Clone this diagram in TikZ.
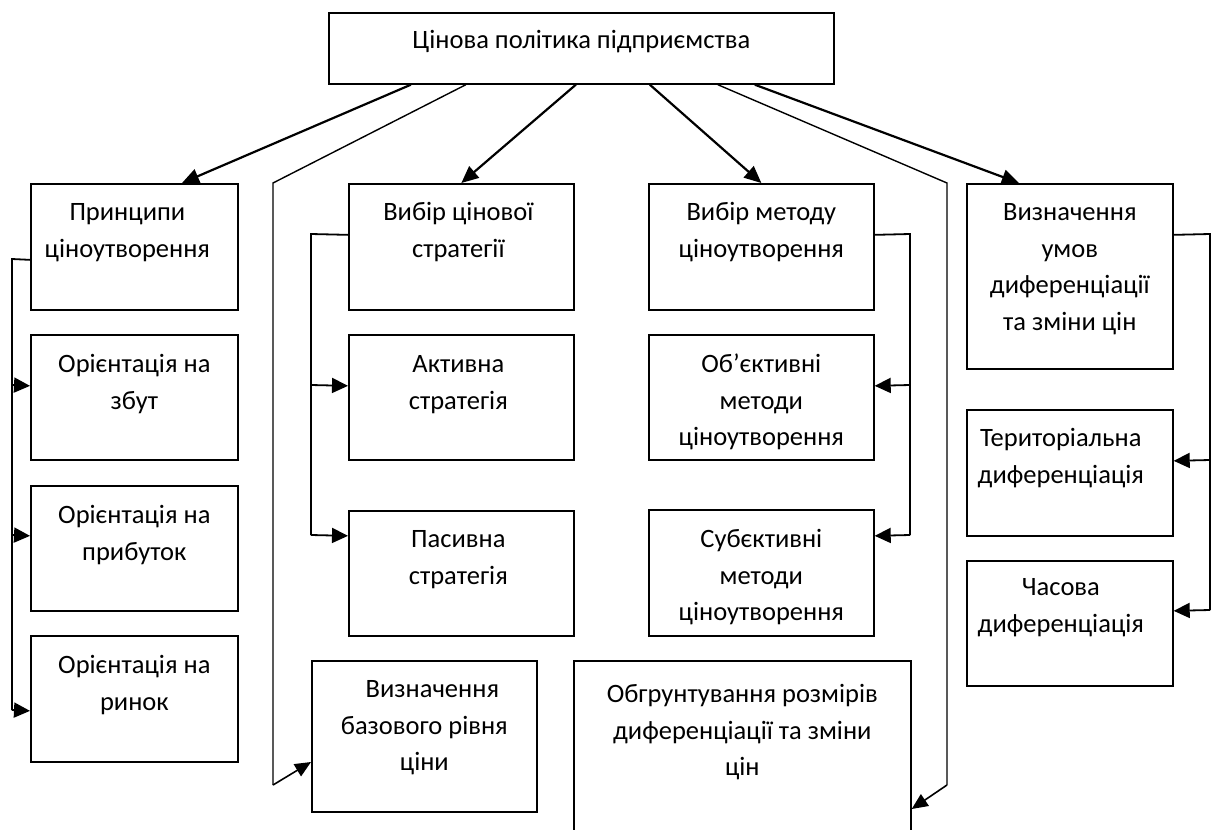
\documentclass[tikz,border=0pt]{standalone}
\usepackage{fontspec}
\setmainfont{Carlito}
\usetikzlibrary{arrows.meta}
\newcommand\bxt[5]{\parbox[c][#2][t]{#1}{\fontsize{26.5pt}{36.5pt}\selectfont\centering\leftskip=\dimexpr #3\relax plus 1fil\rightskip=-\dimexpr #3\relax plus 1fil\rule{0pt}{#4}#5\par}}
\tikzset{
  box/.style={draw, line width=1.7pt, inner sep=0pt, anchor=north west},
  arr/.style={-{Triangle[length=17pt,width=15pt]}, line width=2.2pt},
  ln/.style={line width=1.4pt},
  lnarr/.style={line width=1.6pt, -{Triangle[length=16pt,width=14pt]}},
  bus/.style={line width=1.8pt},
  busarr/.style={line width=1.8pt, -{Triangle[length=16pt,width=15pt]}}
}
\begin{document}
\begin{tikzpicture}[x=1pt,y=-1pt]
\useasboundingbox (0,0) rectangle (1219,830);
\clip (0,0) rectangle (1219,830);
\fill[white] (0,0) rectangle (1219,830);
% boxes
\node[box] (top) at (328,12) {\bxt{505pt}{71pt}{0pt}{36pt}{Цінова політика підприємства}};
\node[box] (P)  at (30,183) {\bxt{207pt}{126pt}{-7pt}{37pt}{Принципи\\ціноутворення}};
\node[box] (O1) at (30,334) {\bxt{207pt}{125pt}{0pt}{38pt}{Орієнтація на\\збут}};
\node[box] (O2) at (30,485) {\bxt{207pt}{125pt}{0pt}{38pt}{Орієнтація на\\прибуток}};
\node[box] (O3) at (30,635) {\bxt{207pt}{126pt}{0pt}{38pt}{Орієнтація на\\ринок}};
\node[box] (S)  at (348,183) {\bxt{225pt}{126pt}{-3pt}{37pt}{Вибір цінової\\стратегії}};
\node[box] (A)  at (348,334) {\bxt{225pt}{125pt}{-3pt}{38pt}{Активна\\стратегія}};
\node[box] (Pa) at (348,510) {\bxt{225pt}{125pt}{-3pt}{37pt}{Пасивна\\стратегія}};
\node[box] (M)  at (648,183) {\bxt{225pt}{126pt}{0pt}{37pt}{Вибір методу\\ціноутворення}};
\node[box] (Ob) at (648,334) {\bxt{225pt}{125pt}{0pt}{38pt}{Об’єктивні\\методи\\ціноутворення}};
\node[box] (Su) at (648,509) {\bxt{225pt}{126pt}{0pt}{38pt}{Субєктивні\\методи\\ціноутворення}};
\node[box] (V)  at (966,183) {\bxt{206pt}{185pt}{0pt}{37pt}{Визначення\\умов\\диференціації\\та зміни цін}};
\node[box] (T)  at (966,409) {\bxt{206pt}{126pt}{-9pt}{37pt}{Територіальна\\диференціація}};
\node[box] (C)  at (966,560) {\bxt{206pt}{125pt}{-9pt}{35pt}{Часова\\диференціація}};
\node[box] (B)  at (311,660) {\bxt{225pt}{151pt}{0pt}{37pt}{\hspace*{16pt}Визначення\\базового рівня\\ціни}};
\node[box] (G)  at (573,660) {\bxt{337pt}{220pt}{0pt}{42pt}{Обгрунтування розмірів\\диференціації та зміни\\цін}};
% arrows from the top box
\draw[arr] ([xshift=-170.5pt]top.south) -- ([xshift=152pt]P.north west);
\draw[arr] ([xshift=-5.5pt]top.south) -- (S.north);
\draw[arr] ([xshift=68.5pt]top.south) -- (M.north);
\draw[arr] ([xshift=173.5pt]top.south) -- ([xshift=-51pt]V.north);
% long lines
\coordinate (L1) at (273,183);
\coordinate (L2) at (273,785);
\coordinate (R1) at (947,183);
\coordinate (R2) at (947,785);
\draw[ln] ([xshift=-115.5pt]top.south) -- (L1) -- (L2);
\draw[lnarr] (L2) -- ([yshift=-102pt]B.north west);
\draw[ln] ([xshift=136.5pt]top.south) -- (R1) -- (R2);
\draw[lnarr] (R2) -- ([yshift=-149pt]G.north east);
% column 1 bus
\coordinate (b1a) at (12,259);
\coordinate (b1b) at (12,385);
\coordinate (b1c) at (12,535);
\coordinate (b1d) at (12,710);
\draw[bus] ([yshift=-13pt]P.west) -- (b1a) -- (b1d);
\draw[busarr] (b1b) -- ([yshift=11.5pt]O1.west);
\draw[busarr] (b1c) -- ([yshift=12.5pt]O2.west);
\draw[busarr] (b1d) -- ([yshift=-12pt]O3.west);
% column 2 bus
\coordinate (b2a) at (311,234);
\coordinate (b2b) at (311,385);
\coordinate (b2c) at (311,535);
\draw[bus] ([yshift=12pt]S.west) -- (b2a) -- (b2c);
\draw[busarr] (b2b) -- ([yshift=11.5pt]A.west);
\draw[busarr] (b2c) -- ([yshift=37.5pt]Pa.west);
% column 3 bus
\coordinate (b3a) at (910,234);
\coordinate (b3b) at (910,385);
\coordinate (b3c) at (910,535);
\draw[bus] ([yshift=12pt]M.east) -- (b3a) -- (b3c);
\draw[busarr] (b3b) -- ([yshift=11.5pt]Ob.east);
\draw[busarr] (b3c) -- ([yshift=37pt]Su.east);
% column 4 bus
\coordinate (b4a) at (1210,234);
\coordinate (b4b) at (1210,460);
\coordinate (b4c) at (1210,610);
\draw[bus] ([yshift=41.5pt]V.east) -- (b4a) -- (b4c);
\draw[busarr] (b4b) -- ([yshift=12pt]T.east);
\draw[busarr] (b4c) -- ([yshift=12.5pt]C.east);
\end{tikzpicture}
\end{document}
